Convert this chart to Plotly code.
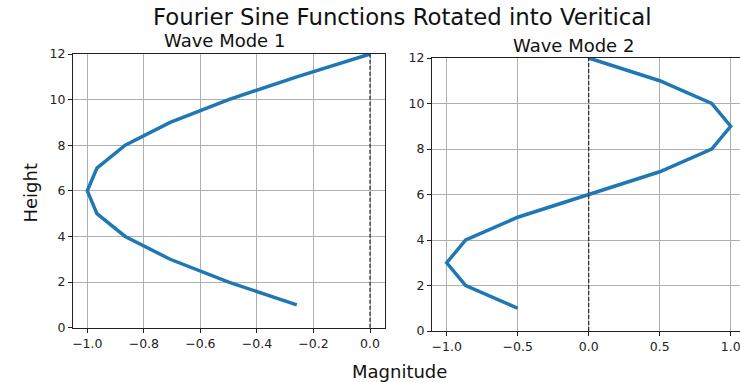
import plotly.graph_objects as go
from plotly.subplots import make_subplots

heights = [1, 2, 3, 4, 5, 6, 7, 8, 9, 10, 11, 12]
mode1 = [-0.259, -0.5, -0.707, -0.866, -0.966, -1.0, -0.966, -0.866, -0.707, -0.5, -0.259, 0.0]
mode2 = [-0.5, -0.866, -1.0, -0.866, -0.5, 0.0, 0.5, 0.866, 1.0, 0.866, 0.5, 0.0]
zero_x = 0.0

x1_ticks = [-1.0, -0.8, -0.6, -0.4, -0.2, 0.0]
x1_labels = ["\u22121.0", "\u22120.8", "\u22120.6", "\u22120.4", "\u22120.2", "0.0"]
x2_ticks = [-1.0, -0.5, 0.0, 0.5, 1.0]
x2_labels = ["\u22121.0", "\u22120.5", "0.0", "0.5", "1.0"]
y_ticks = [0, 2, 4, 6, 8, 10, 12]
y_labels = ["0", "2", "4", "6", "8", "10", "12"]

W, H = 740, 382
FONT = "DejaVu Sans"
BLUE = "#1f77b4"
GRID = "#b0b0b0"

def px(x):
    return x / W

def py(y):
    return 1 - y / H

fig = make_subplots(rows=1, cols=2)

fig.add_trace(go.Scatter(x=mode1, y=heights, mode="lines",
                         line=dict(color=BLUE, width=3.5), showlegend=False), row=1, col=1)
fig.add_trace(go.Scatter(x=mode2, y=heights, mode="lines",
                         line=dict(color=BLUE, width=3.5), showlegend=False), row=1, col=2)

for c in (1, 2):
    fig.add_vline(x=zero_x, line=dict(color="#333333", width=1.3, dash="4px,2px"), row=1, col=c)

axis_common = dict(showgrid=True, gridcolor=GRID, gridwidth=0.8, zeroline=False,
                   showline=True, linecolor="#222222", linewidth=1, automargin=False,
                   ticks="outside", ticklen=4, tickwidth=0.8, tickcolor="#222222",
                   ticklabeloverflow="allow",
                   tickfont=dict(family=FONT, size=12.5, color="#222222"))

fig.update_layout(
    width=W, height=H, margin=dict(l=0, r=0, t=0, b=0),
    plot_bgcolor="white", paper_bgcolor="white",
    xaxis=dict(domain=[px(73), px(385)], range=[-1.0506, 0.053], tickvals=x1_ticks,
               ticktext=x1_labels, mirror=True, **axis_common),
    yaxis=dict(domain=[py(327.7), py(54)], range=[0, 12], tickvals=y_ticks,
               ticktext=y_labels, mirror=True, **axis_common),
    xaxis2=dict(domain=[px(432), 1.0], range=[-1.1035, 1.0655], tickvals=x2_ticks,
                ticktext=x2_labels, mirror=True, **axis_common),
    yaxis2=dict(domain=[py(331), py(58)], range=[0, 12], tickvals=y_ticks,
                ticktext=y_labels, mirror=False, **axis_common),
)

annots = [
    ("Fourier Sine Functions Rotated into Veritical", 402, 17, 22.8, 0),
    ("Wave Mode 1", 224.5, 40, 18, 0),
    ("Wave Mode 2", 573, 46, 18, 0),
    ("Height", 30, 192.5, 18, -90),
    ("Magnitude", 399, 371, 18, 0),
]
for text, x, y, size, ang in annots:
    fig.add_annotation(text=text, x=px(x), y=py(y), xref="paper", yref="paper",
                       xanchor="center", yanchor="middle", showarrow=False,
                       textangle=ang, font=dict(family=FONT, size=size, color="#111111"))

fig.write_html("out.html")
